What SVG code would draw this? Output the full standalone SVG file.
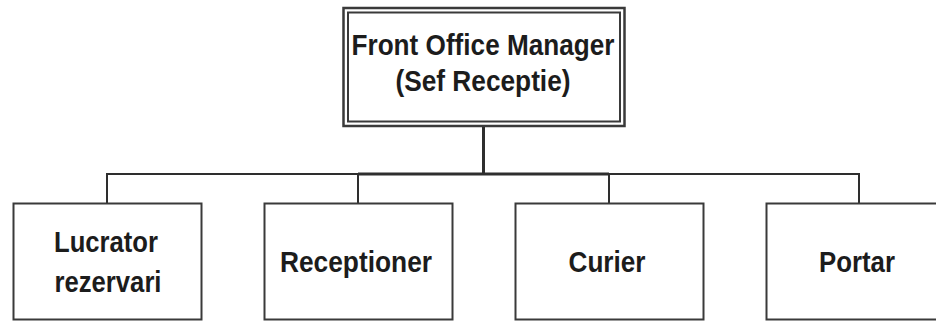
<svg xmlns="http://www.w3.org/2000/svg" width="936" height="321" viewBox="0 0 936 321">
<style>
.box{fill:#fff;stroke:#3a3a3a;stroke-width:2}
.t{font-family:"Liberation Sans",Arial,sans-serif;font-weight:bold;font-size:29px;fill:#1c1c1c;text-anchor:middle}
.c{fill:none;stroke:#2e2e2e;stroke-width:2}
</style>
<rect width="936" height="321" fill="#fff"/>
<g id="connectors">
<path class="c" d="M107,203 V174 H859 V203 M358,174 V203 M609,174 V203"/>
<path class="c" style="stroke-width:3" d="M483.5,126 V174 M358,174 H609"/>
</g>
<g id="manager">
<rect class="box" x="343.5" y="8" width="281" height="118" style="stroke-width:2.5"/>
<rect class="box" x="348" y="12.5" width="272" height="109"/>
<text class="t" x="483" y="55" textLength="263" lengthAdjust="spacingAndGlyphs">Front Office Manager</text>
<text class="t" x="483" y="91" textLength="175" lengthAdjust="spacingAndGlyphs">(Sef Receptie)</text>
</g>
<g id="lucrator">
<rect class="box" x="13.5" y="203.5" width="188" height="116"/>
<text class="t" x="106" y="252" textLength="104" lengthAdjust="spacingAndGlyphs">Lucrator</text>
<text class="t" x="108" y="292" textLength="107" lengthAdjust="spacingAndGlyphs">rezervari</text>
</g>
<g id="receptioner">
<rect class="box" x="264.5" y="203.5" width="188" height="116"/>
<text class="t" x="356" y="272" textLength="152" lengthAdjust="spacingAndGlyphs">Receptioner</text>
</g>
<g id="curier">
<rect class="box" x="515.5" y="203.5" width="188" height="116"/>
<text class="t" x="607" y="272" textLength="77" lengthAdjust="spacingAndGlyphs">Curier</text>
</g>
<g id="portar">
<rect class="box" x="766.5" y="203.5" width="188" height="116"/>
<text class="t" x="857" y="272" textLength="76" lengthAdjust="spacingAndGlyphs">Portar</text>
</g>
</svg>
